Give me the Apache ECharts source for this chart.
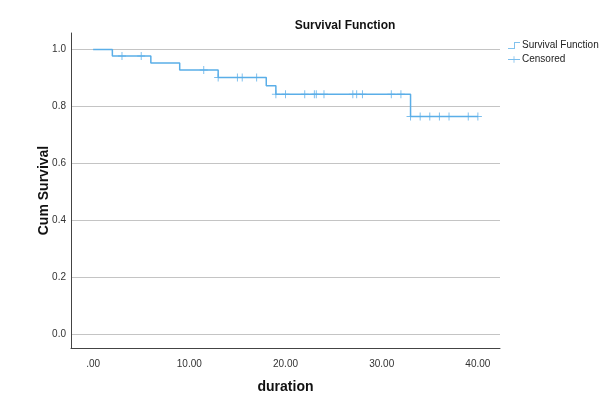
<!DOCTYPE html>
<html>
<head>
<meta charset="utf-8">
<script src="https://cdn.jsdelivr.net/npm/echarts@6/dist/echarts.min.js"></script>
<style>
  html, body { margin: 0; padding: 0; background: #fff; }
  #chart { width: 602px; height: 399px; }
</style>
</head>
<body>
<div id="chart"></div>
<script>
// survival steps (time where the curve drops, value after the drop)
const stepTimes = [0, 2, 6, 9, 13, 18, 19, 33, 40];
const stepSurv = [1.0, 0.977, 0.953, 0.928, 0.902, 0.873, 0.843, 0.765, 0.765];
// censored observations
const censorTimes = [3, 5, 11.5, 13, 15, 15.5, 17, 19, 20, 22, 23, 23.2, 24, 27, 27.4, 28, 31, 32, 33, 34, 35, 36, 37, 39, 40];
const censorSurv = [0.977, 0.977, 0.928, 0.902, 0.902, 0.902, 0.902, 0.843, 0.843, 0.843, 0.843, 0.843, 0.843, 0.843, 0.843, 0.843, 0.843, 0.843, 0.765, 0.765, 0.765, 0.765, 0.765, 0.765, 0.765];
const xTicks = [0, 10, 20, 30, 40];
const yTicks = [0, 0.2, 0.4, 0.6, 0.8, 1.0];

const lineColor = "#5aaee8";
const stepIcon = "path://M0,8h8v-8h8v1h-7v8h-9z";
const crossIcon = "path://M7,0h1v8h-1z M0,3.5h15v1h-15z";
const plusSymbol = "path://M4.4,0h1.2v10h-1.2z M0,4.4h10v1.2h-10z";

const chart = echarts.init(document.getElementById("chart"));

chart.setOption({
  backgroundColor: "#fff",
  animation: false,
  title: {
    text: "Survival Function",
    left: 340,
    top: 15,
    textAlign: "center",
    textStyle: { fontFamily: "Liberation Sans", fontSize: 12, fontWeight: "bold", color: "#111" },
  },
  legend: {
    orient: "vertical",
    left: 503,
    top: 34,
    itemWidth: 12,
    itemHeight: 8,
    itemGap: 1,
    textStyle: { fontFamily: "Liberation Sans", fontSize: 10, color: "#222", lineHeight: 13, padding: [0, 0, 0, -3] },
    data: [
      { name: "Survival Function", icon: stepIcon },
      { name: "Censored", icon: crossIcon },
    ],
  },
  grid: { left: 71, right: 102, top: 33, bottom: 44 },
  xAxis: {
    type: "value",
    min: -2.3,
    max: 42.3,
    name: "duration",
    nameLocation: "middle",
    nameGap: 32,
    nameMoveOverlap: false,
    nameTextStyle: { fontFamily: "Liberation Sans", fontSize: 14, fontWeight: "bold", color: "#111" },
    axisLine: { show: true, onZero: false, lineStyle: { color: "#444", width: 1 } },
    axisTick: { show: false, customValues: xTicks },
    splitLine: { show: false },
    axisLabel: {
      customValues: xTicks,
      margin: 11,
      fontFamily: "Liberation Sans",
      fontSize: 10,
      color: "#333",
      formatter: (v) => (v === 0 ? ".00" : v.toFixed(2)),
    },
  },
  yAxis: {
    type: "value",
    min: -0.047,
    max: 1.058,
    name: "Cum Survival",
    nameLocation: "middle",
    nameGap: 20,
    nameMoveOverlap: false,
    nameTextStyle: { fontFamily: "Liberation Sans", fontSize: 14, fontWeight: "bold", color: "#111" },
    axisLine: { show: true, onZero: false, lineStyle: { color: "#444", width: 1 } },
    axisTick: { show: false, customValues: yTicks },
    splitLine: { show: true, lineStyle: { color: "#c4c4c4", width: 1 } },
    axisLabel: {
      customValues: yTicks,
      margin: 5,
      fontFamily: "Liberation Sans",
      fontSize: 10,
      color: "#333",
      formatter: (v) => v.toFixed(1),
    },
  },
  series: [
    {
      name: "Survival Function",
      type: "line",
      step: "end",
      showSymbol: false,
      data: stepTimes.map((t, i) => [t, stepSurv[i]]),
      lineStyle: { color: lineColor, width: 1.5 },
      itemStyle: { color: lineColor },
    },
    {
      name: "Censored",
      type: "scatter",
      symbol: plusSymbol,
      symbolSize: 8,
      data: censorTimes.map((t, i) => [t, censorSurv[i]]),
      itemStyle: { color: lineColor },
    },
  ],
});
</script>
</body>
</html>
